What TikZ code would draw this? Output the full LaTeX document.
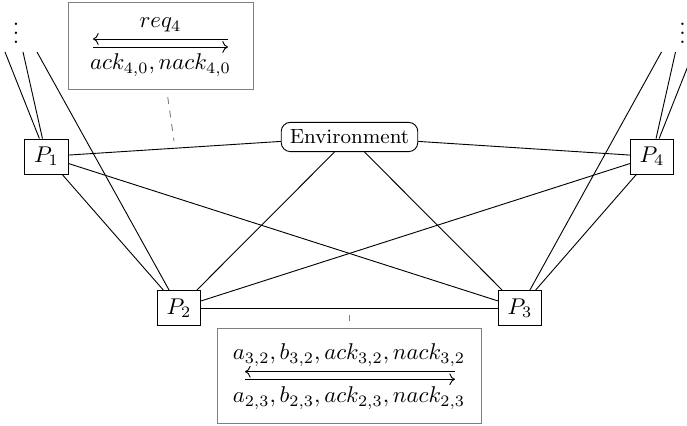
\documentclass[tikz,border=0pt]{standalone}
\usetikzlibrary{arrows.meta}
\def\pxu{0.4386pt}
\begin{document}
\begin{tikzpicture}[x=0.4386pt,y=-0.4386pt,
  proc/.style={draw, inner sep=0pt, minimum width=43.4*\pxu, minimum height=35*\pxu},
  envbox/.style={draw, rounded corners=4pt, font=\small, inner xsep=3.8pt, inner ysep=3.3pt},
  labelbox/.style={draw=gray, inner sep=0pt},
  note/.style={draw=gray, dashed, shorten <=3pt, shorten >=3pt},
  arr/.style={-{Computer Modern Rightarrow}}]
\useasboundingbox (0,0) rectangle (687,426);
\clip (0,0) rectangle (687,426);

% processes
\node[proc] (P1) at (46.5,156.5) {$P_1$};
\node[proc] (P2) at (179,308) {$P_2$};
\node[proc] (P3) at (520,308) {$P_3$};
\node[proc] (P4) at (652,156.5) {$P_4$};
\node[envbox] (Env) at (349.5,137) {Environment};

% dots
\node[inner sep=0pt] (dl) at (16,26.5) {$\vdots$};
\node[inner sep=0pt] (dr) at (682.5,26.5) {$\vdots$};

% free ends
\coordinate (L1) at (5,52);
\coordinate (L2) at (23,52);
\coordinate (L3) at (37,52);
\coordinate (R1) at (693.5,52);
\coordinate (R2) at (675.5,52);
\coordinate (R3) at (661.5,52);

% edges
\draw (P1) -- (L1);
\draw (P1) -- (L2);
\draw (P2) -- (L3);
\draw (P4) -- (R1);
\draw (P4) -- (R2);
\draw (P3) -- (R3);
\draw (P1) -- (Env);
\draw (P4) -- (Env);
\draw (P1) -- (P2);
\draw (P1) -- (P3);
\draw (P4) -- (P2);
\draw (P4) -- (P3);
\draw (P2) -- (P3);
\draw (Env) -- (P2);
\draw (Env) -- (P3);

% top label
\node[labelbox, minimum width=185*\pxu, minimum height=87*\pxu] (B1) at (160.5,46.3) {};
\node (req) at (160.5,25) {$req_4$};
\node (ack) at (160.5,65) {$ack_{4,0}, nack_{4,0}$};
\coordinate (a1l) at (93,39);
\coordinate (a1r) at (228,39);
\coordinate (b1l) at (93,47);
\coordinate (b1r) at (228,47);
\draw[arr] (a1r) -- (a1l);
\draw[arr] (b1l) -- (b1r);
\coordinate (e1) at (175,148);
\draw[note] (B1) -- (e1);

% bottom label
\node[labelbox, minimum width=264*\pxu, minimum height=95*\pxu] (B2) at (349.5,375.8) {};
\node (t2) at (349,355) {$a_{3,2}, b_{3,2}, ack_{3,2}, nack_{3,2}$};
\node (u2) at (349,398) {$a_{2,3}, b_{2,3}, ack_{2,3}, nack_{2,3}$};
\coordinate (a2l) at (245,371.7);
\coordinate (a2r) at (455,371.7);
\coordinate (b2l) at (245,379.3);
\coordinate (b2r) at (455,379.3);
\draw[arr] (a2r) -- (a2l);
\draw[arr] (b2l) -- (b2r);
\coordinate (e2) at (349.5,308);
\draw[note] (B2) -- (e2);
\end{tikzpicture}
\end{document}
